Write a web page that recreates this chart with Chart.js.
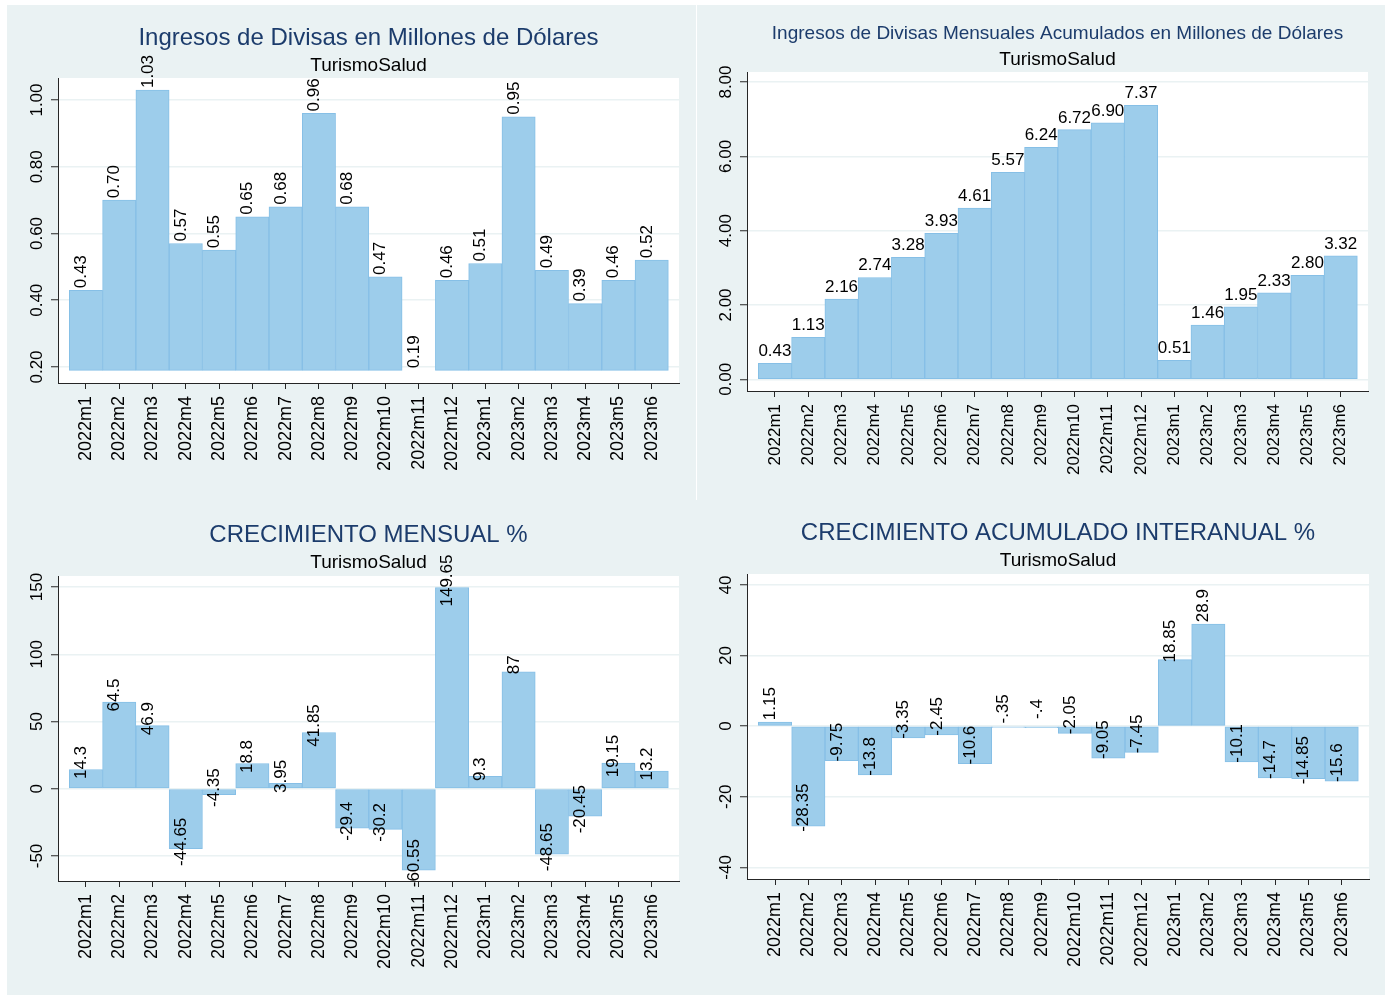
<!DOCTYPE html>
<html lang="es">
<head>
<meta charset="UTF-8" />
<title>Ingresos de Divisas – TurismoSalud</title>
<style>
  body{margin:0;background:#fff;}
  #wrap{position:relative;width:1388px;height:996px;overflow:hidden;}
  .bg{position:absolute;left:7px;top:5px;width:1378px;height:990px;background:#eaf2f3;}
  .sep{position:absolute;left:696px;top:5px;width:1px;height:495px;background:#fff;}
  canvas{position:absolute;}
</style>
<script src="https://cdn.jsdelivr.net/npm/chart.js@4.4.0/dist/chart.umd.min.js"></script>
</head>
<body>
<div id="wrap">
  <div class="bg"></div>
  <div class="sep"></div>
  <canvas id="c1" width="689" height="495" style="left:7px;top:5px"></canvas>
  <canvas id="c2" width="688" height="495" style="left:697px;top:5px"></canvas>
  <canvas id="c3" width="689" height="495" style="left:7px;top:500px"></canvas>
  <canvas id="c4" width="688" height="495" style="left:697px;top:500px"></canvas>
</div>

<script>
// ===== datos =====
const months = ['2022m1','2022m2','2022m3','2022m4','2022m5','2022m6','2022m7','2022m8','2022m9',
  '2022m10','2022m11','2022m12','2023m1','2023m2','2023m3','2023m4','2023m5','2023m6'];

const ingresos = [0.43,0.70,1.03,0.57,0.55,0.65,0.68,0.96,0.68,0.47,0.19,0.46,0.51,0.95,0.49,0.39,0.46,0.52];
const acumulados = [0.43,1.13,2.16,2.74,3.28,3.93,4.61,5.57,6.24,6.72,6.90,7.37,0.51,1.46,1.95,2.33,2.80,3.32];
const crecMensual = [14.3,64.5,46.9,-44.65,-4.35,18.8,3.95,41.85,-29.4,-30.2,-60.55,149.65,9.3,87,-48.65,-20.45,19.15,13.2];
const crecInteranual = [1.15,-28.35,-9.75,-13.8,-3.35,-2.45,-10.6,-0.35,-0.4,-2.05,-9.05,-7.45,18.85,28.9,-10.1,-14.7,-14.85,-15.6];

const ticksIngresos = [0.2,0.4,0.6,0.8,1.0];
const ticksAcumulados = [0,2,4,6,8];
const ticksMensual = [-50,0,50,100,150];
const ticksInteranual = [-40,-20,0,20,40];

const SUBTITLE = 'TurismoSalud';

// ===== estilo =====
const FONT = '"Liberation Sans", Arial, Helvetica, sans-serif';
const NAVY = '#1c3c6c';
const BAR = '#9dcdeb';
const BAR_EDGE = '#86bfe6';
const AXIS = '#262626';
Chart.defaults.font.family = FONT;
Chart.defaults.color = '#000';

// formatos tipo Stata
const fmt = {
  f2: v => v.toFixed(2),
  g: v => String(Math.round(v * 100) / 100).replace(/^(-?)0\./, '$1.')
};

const panelDeco = {
  id: 'panelDeco',
  beforeDraw(chart) {
    const {ctx, chartArea: a} = chart;
    ctx.save();
    ctx.fillStyle = '#fff';
    ctx.fillRect(a.left, a.top, a.right - a.left, a.bottom - a.top);
    ctx.restore();
  },
  afterDatasetsDraw(chart, args, o) {
    const {ctx} = chart;
    const meta = chart.getDatasetMeta(0);
    const ys = chart.scales.y;
    const pts = chart.data.datasets[0].data;
    ctx.save();
    ctx.fillStyle = '#000';
    ctx.font = `17px ${FONT}`;
    meta.data.forEach((bar, i) => {
      const v = pts[i].y;
      const py = ys.getPixelForValue(v);
      const txt = fmt[o.labelFmt](v);
      if (o.labelMode === 'flat') {
        ctx.textAlign = 'center';
        ctx.textBaseline = 'alphabetic';
        ctx.fillText(txt, bar.x, py - 7);
      } else {
        ctx.save();
        ctx.translate(bar.x, py - o.labelOffset);
        ctx.rotate(-Math.PI / 2);
        ctx.textAlign = 'center';
        ctx.textBaseline = 'alphabetic';
        ctx.fillText(txt, 0, 0);
        ctx.restore();
      }
    });
    ctx.restore();
  },
  afterDraw(chart, args, o) {
    const {ctx, chartArea: a} = chart;
    const cx = (a.left + a.right) / 2;
    ctx.save();
    ctx.textAlign = 'center';
    ctx.textBaseline = 'alphabetic';
    ctx.fillStyle = NAVY;
    ctx.font = `${o.titleSize}px ${FONT}`;
    ctx.fillText(o.title, cx, o.titleY);
    ctx.fillStyle = '#000';
    ctx.font = `19px ${FONT}`;
    ctx.fillText(SUBTITLE, cx, o.subY);
    // etiquetas del eje y, giradas
    const ys = chart.scales.y;
    ctx.font = `17px ${FONT}`;
    ys.ticks.forEach(t => {
      ctx.save();
      ctx.translate(a.left - 21, ys.getPixelForValue(t.value));
      ctx.rotate(-Math.PI / 2);
      ctx.textBaseline = 'middle';
      ctx.fillText(fmt[o.tickFmt](t.value), 0, 0);
      ctx.restore();
    });
    ctx.restore();
  }
};

function panel(id, values, yTicks, c) {
  const base = c.base !== undefined ? c.base : 0;
  return new Chart(document.getElementById(id), {
    type: 'bar',
    data: {
      datasets: [{
        data: values.map((v, i) => ({x: i, y: v})),
        base: base,
        backgroundColor: BAR,
        borderColor: BAR_EDGE,
        borderWidth: 1,
        borderSkipped: false,
        barPercentage: 1,
        categoryPercentage: 1
      }]
    },
    options: {
      responsive: false,
      animation: false,
      layout: {padding: c.pad},
      plugins: {
        legend: {display: false},
        tooltip: {enabled: false},
        panelDeco: {
          title: c.title, titleSize: c.titleSize, titleY: c.titleY, subY: c.subY,
          labelMode: c.labelMode, labelOffset: c.labelOffset, labelFmt: c.labelFmt, tickFmt: c.tickFmt
        }
      },
      scales: {
        x: {
          type: 'linear',
          min: -0.84, max: 17.82,
          offset: false,
          afterBuildTicks: s => { s.ticks = months.map((m, i) => ({value: i})); },
          afterFit: s => { s.height = 100; },
          ticks: {
            autoSkip: false, maxRotation: 90, minRotation: 90, padding: 7,
            font: {size: c.xFont}, color: '#000',
            callback: v => months[v]
          },
          grid: {offset: false, drawOnChartArea: false, drawTicks: true, tickLength: 6, tickColor: AXIS, tickWidth: 1},
          border: {display: true, color: AXIS, width: 1}
        },
        y: {
          min: c.yMin, max: c.yMax,
          beginAtZero: false,
          afterBuildTicks: s => { s.ticks = yTicks.map(v => ({value: v})); },
          afterFit: s => { s.width = 40; },
          ticks: {display: false},
          grid: {color: '#eaf2f3', lineWidth: 1.5, drawTicks: true, tickLength: 7, tickColor: AXIS, tickWidth: 1},
          border: {display: true, color: AXIS, width: 1}
        }
      }
    },
    plugins: [panelDeco]
  });
}

panel('c1', ingresos, ticksIngresos, {
  title: 'Ingresos de Divisas en Millones de Dólares', titleSize: 24, titleY: 40, subY: 66,
  pad: {left: 11, right: 17, top: 73, bottom: 17},
  yMin: 0.152, yMax: 1.066, base: Math.min(...ingresos),
  labelMode: 'rot', labelOffset: 18.5, labelFmt: 'f2', tickFmt: 'f2', xFont: 18
});

panel('c2', acumulados, ticksAcumulados, {
  title: 'Ingresos de Divisas Mensuales Acumulados en Millones de Dólares', titleSize: 19, titleY: 34, subY: 60,
  pad: {left: 10, right: 17, top: 67, bottom: 9},
  yMin: -0.315, yMax: 8.27,
  labelMode: 'flat', labelOffset: 0, labelFmt: 'f2', tickFmt: 'f2', xFont: 17
});

panel('c3', crecMensual, ticksMensual, {
  title: 'CRECIMIENTO MENSUAL %', titleSize: 24, titleY: 42, subY: 68,
  pad: {left: 11, right: 17, top: 76, bottom: 14},
  yMin: -68.6, yMax: 158.2,
  labelMode: 'rot', labelOffset: 7, labelFmt: 'g', tickFmt: 'g', xFont: 18
});

panel('c4', crecInteranual, ticksInteranual, {
  title: 'CRECIMIENTO ACUMULADO INTERANUAL %', titleSize: 24, titleY: 40, subY: 66,
  pad: {left: 10, right: 16, top: 74, bottom: 16},
  yMin: -43.3, yMax: 43.1,
  labelMode: 'rot', labelOffset: 18.5, labelFmt: 'g', tickFmt: 'g', xFont: 18
});
</script>
</body>
</html>
